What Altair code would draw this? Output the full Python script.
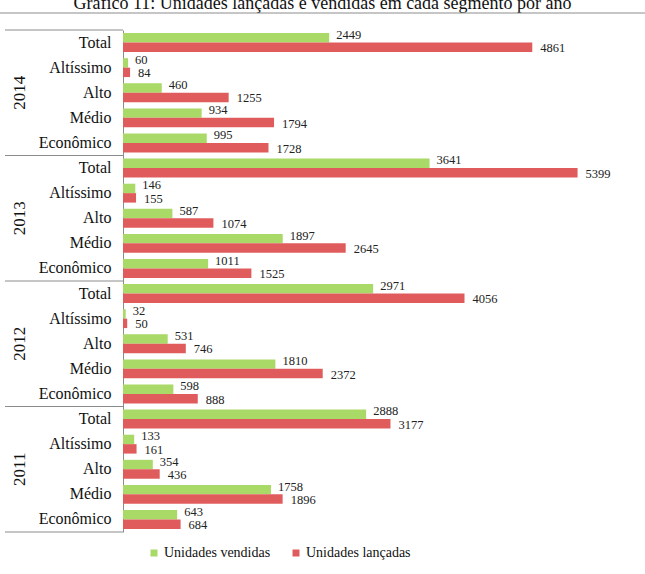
import altair as alt
import pandas as pd

years = ["2014", "2013", "2012", "2011"]
segments = ["Total", "Altíssimo", "Alto", "Médio", "Econômico"]
series = ["Unidades vendidas", "Unidades lançadas"]

vendidas_2014 = [2449, 60, 460, 934, 995]
lancadas_2014 = [4861, 84, 1255, 1794, 1728]
vendidas_2013 = [3641, 146, 587, 1897, 1011]
lancadas_2013 = [5399, 155, 1074, 2645, 1525]
vendidas_2012 = [2971, 32, 531, 1810, 598]
lancadas_2012 = [4056, 50, 746, 2372, 888]
vendidas_2011 = [2888, 133, 354, 1758, 643]
lancadas_2011 = [3177, 161, 436, 1896, 684]

title_text = "Gráfico 11: Unidades lançadas e vendidas em cada segmento por ano"

vend = {"2014": vendidas_2014, "2013": vendidas_2013, "2012": vendidas_2012, "2011": vendidas_2011}
lanc = {"2014": lancadas_2014, "2013": lancadas_2013, "2012": lancadas_2012, "2011": lancadas_2011}

rows = []
for y in years:
    for i, s in enumerate(segments):
        rows.append({"row": f"{y}|{s}", "series": series[0], "value": vend[y][i]})
        rows.append({"row": f"{y}|{s}", "series": series[1], "value": lanc[y][i]})
df = pd.DataFrame(rows)

row_order = [f"{y}|{s}" for y in years for s in segments]

FONT = "Liberation Serif"
GREEN = "#a9d966"
RED = "#e05c5c"
LINE = "#8c8c8c"

yscale = alt.Scale(domain=row_order, paddingInner=0, paddingOuter=0)
yaxis = alt.Axis(
    labelExpr="substring(datum.value, 5)",
    ticks=False,
    domain=True,
    domainColor=LINE,
    labelFont=FONT,
    labelFontSize=16,
    labelColor="#111",
    labelPadding=12,
    labelAlign="right",
    grid=False,
)


def yenc(**kw):
    return alt.Y("row:N", scale=yscale, title=None, axis=yaxis, **kw)


yoff = alt.YOffset(
    "series:N",
    sort=series,
    scale=alt.Scale(domain=series, paddingOuter=0.33, paddingInner=0),
)
xenc = alt.X("value:Q", scale=alt.Scale(domain=[0, 6200]), axis=None)

bars = alt.Chart(df).mark_bar().encode(
    y=yenc(),
    yOffset=yoff,
    x=xenc,
    color=alt.Color(
        "series:N",
        scale=alt.Scale(domain=series, range=[GREEN, RED]),
        legend=alt.Legend(
            title=None,
            orient="none",
            legendX=24,
            legendY=516,
            direction="horizontal",
            symbolType="square",
            symbolSize=49,
            symbolStrokeWidth=0,
            labelFont=FONT,
            labelFontSize=14,
            labelColor="#111",
            columnPadding=18,
            labelOffset=3,
            padding=0,
        ),
    ),
)

txt_green = alt.Chart(df).transform_filter(
    alt.datum.series == series[0]
).mark_text(align="left", baseline="middle", dx=7, dy=-3, font=FONT, fontSize=12.5, color="#222").encode(
    y=yenc(), yOffset=yoff, x=xenc, text="value:Q"
)
txt_red = alt.Chart(df).transform_filter(
    alt.datum.series == series[1]
).mark_text(align="left", baseline="middle", dx=8, dy=1, font=FONT, fontSize=12.5, color="#222").encode(
    y=yenc(), yOffset=yoff, x=xenc, text="value:Q"
)

year_df = pd.DataFrame({"year": years, "row": [f"{y}|Alto" for y in years]})
year_txt = alt.Chart(year_df).mark_text(
    angle=270, align="center", baseline="middle", font=FONT, fontSize=17, color="#111"
).encode(y=yenc(), x=alt.value(-103), text="year:N")

sep_df = pd.DataFrame({"row": [f"{y}|Total" for y in years]})
seps = alt.Chart(sep_df).mark_rule(color=LINE, strokeWidth=1).encode(
    y=yenc(bandPosition=0),
    x=alt.value(-118),
    x2=alt.value(0),
)
bot_df = pd.DataFrame({"row": [f"{years[-1]}|{segments[-1]}"]})
sep_bottom = alt.Chart(bot_df).mark_rule(color=LINE, strokeWidth=1).encode(
    y=yenc(bandPosition=1),
    x=alt.value(-118),
    x2=alt.value(0),
)

title_df = pd.DataFrame({"t": [title_text]})
title_txt = alt.Chart(title_df).mark_text(
    align="center", baseline="alphabetic", font=FONT, fontSize=18, color="#111"
).encode(x=alt.value(199.5), y=alt.value(-21), text="t:N")
top_line = alt.Chart(title_df).mark_rule(color=LINE, strokeWidth=1).encode(
    x=alt.value(-123), x2=alt.value(522), y=alt.value(-17)
)

chart = alt.layer(
    bars, txt_green, txt_red, year_txt, seps, sep_bottom, title_txt, top_line
).properties(
    width=522,
    height=502,
    autosize=alt.AutoSizeParams(type="none"),
    padding={"left": 123, "top": 30, "right": 0, "bottom": 42},
    background="white",
).configure_view(stroke=None)

chart.save("out.html", embed_options={"renderer": "svg", "actions": False})
